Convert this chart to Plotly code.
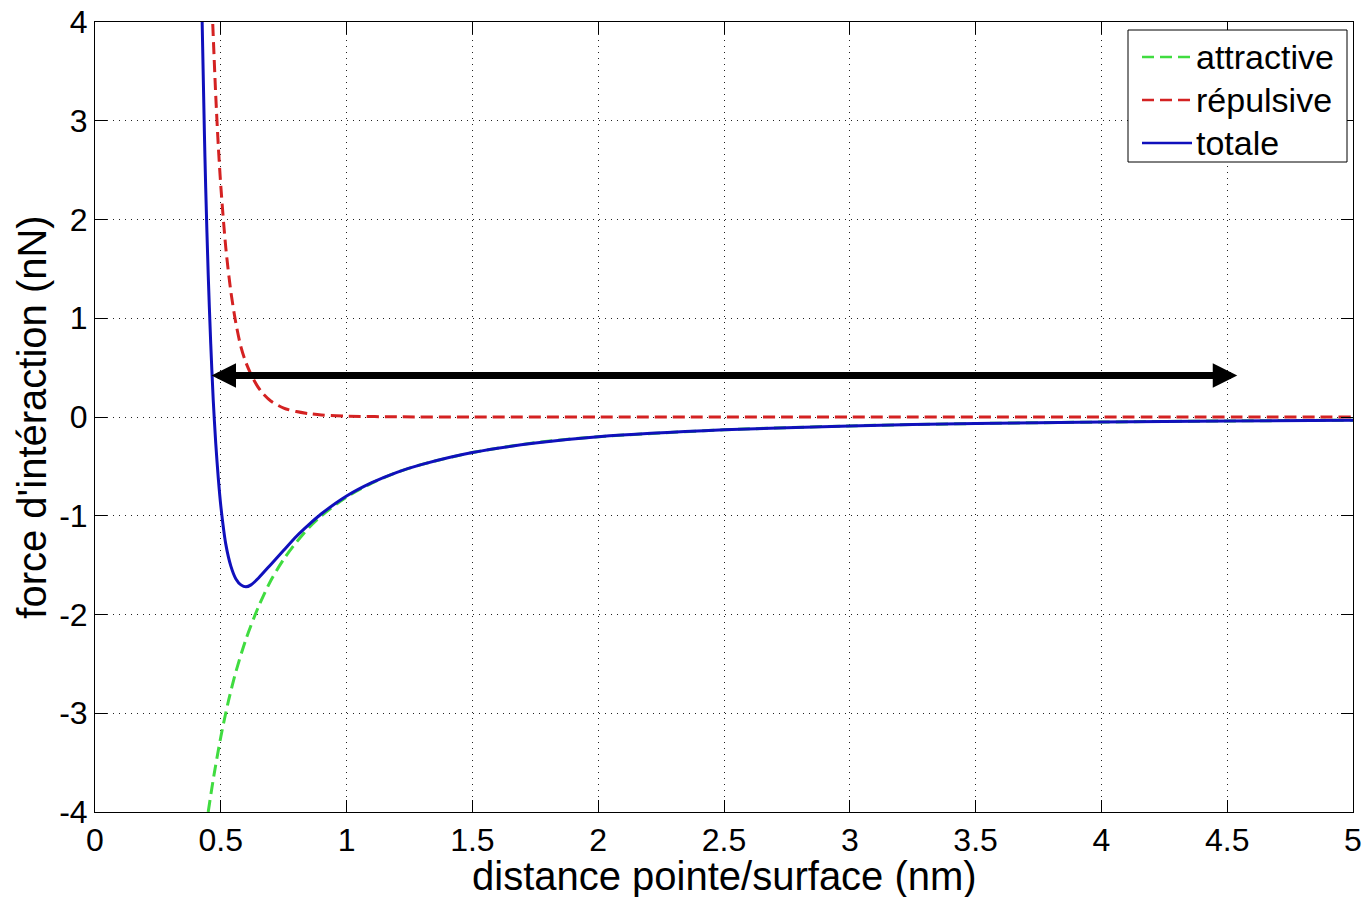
import plotly.graph_objects as go

# ---- data ----
x_att = [0.45, 0.47, 0.50, 0.53, 0.56, 0.60, 0.65, 0.70, 0.75, 0.80, 0.85, 0.90,
         1.00, 1.10, 1.20, 1.30, 1.50, 1.75, 2.00, 2.50, 3.00, 3.50, 4.00, 4.50, 5.00]
y_att = [-4.00, -3.67, -3.24, -2.88, -2.58, -2.25, -1.92, -1.65, -1.44, -1.27, -1.12, -1.00,
         -0.81, -0.67, -0.56, -0.48, -0.36, -0.26, -0.20, -0.13, -0.09, -0.066, -0.051, -0.040, -0.032]

x_rep = [0.468, 0.48, 0.49, 0.50, 0.52, 0.54, 0.56, 0.58, 0.60, 0.63, 0.66, 0.70,
         0.75, 0.80, 0.85, 0.90, 1.00, 1.20, 1.50, 2.00, 3.00, 4.00, 5.00]
y_rep = [3.98, 3.25, 2.75, 2.34, 1.71, 1.27, 0.95, 0.71, 0.55, 0.38, 0.26, 0.16,
         0.09, 0.055, 0.034, 0.021, 0.009, 0.002, 0.0, 0.0, 0.0, 0.0, 0.0]

x_tot = [0.425, 0.435, 0.44, 0.45, 0.46, 0.47, 0.48, 0.49, 0.50, 0.52, 0.54, 0.56,
         0.58, 0.60, 0.62, 0.65, 0.70, 0.75, 0.80, 0.85, 0.90, 1.00, 1.10, 1.20,
         1.30, 1.50, 1.75, 2.00, 2.50, 3.00, 3.50, 4.00, 4.50, 5.00]
y_tot = [4.11, 2.85, 2.32, 1.44, 0.74, 0.17, -0.27, -0.62, -0.90, -1.29, -1.51, -1.64,
         -1.70, -1.72, -1.70, -1.63, -1.49, -1.35, -1.21, -1.09, -0.98, -0.80, -0.665, -0.56,
         -0.48, -0.36, -0.264, -0.20, -0.13, -0.09, -0.066, -0.051, -0.040, -0.032]

series_names = ["attractive", "répulsive", "totale"]
series_colors = ["#40dc40", "#d42222", "#1010bc"]
series_dash = ["12px,6px", "12px,6px", "solid"]

x_tickvals = [0, 0.5, 1, 1.5, 2, 2.5, 3, 3.5, 4, 4.5, 5]
x_ticktext = ["0", "0.5", "1", "1.5", "2", "2.5", "3", "3.5", "4", "4.5", "5"]
y_tickvals = [-4, -3, -2, -1, 0, 1, 2, 3, 4]
y_ticktext = ["-4", "-3", "-2", "-1", "0", "1", "2", "3", "4"]

arrow_x = [0.457, 4.54]
arrow_y = 0.42

x_title = "distance pointe/surface (nm)"
y_title = "force d'intéraction (nN)"

FONT = "Liberation Sans, Arial, sans-serif"

fig = go.Figure()
for xs, ys, nm, col, ds in zip([x_att, x_rep, x_tot], [y_att, y_rep, y_tot],
                               series_names, series_colors, series_dash):
    fig.add_trace(go.Scatter(x=xs, y=ys, mode="lines", name=nm, showlegend=False,
                             line=dict(color=col, width=3, dash=ds,
                                       shape="spline", smoothing=0.8)))

fig.add_annotation(x=arrow_x[1], y=arrow_y, ax=arrow_x[0], ay=arrow_y,
                   xref="x", yref="y", axref="x", ayref="y",
                   text="", showarrow=True, arrowside="end+start",
                   arrowhead=2, arrowsize=0.7, arrowwidth=7, arrowcolor="black")

# ---- legend box (MATLAB style) drawn in pixel offsets from the plot's top-left corner ----
W_PLOT, H_PLOT = 1258, 790


def px_x(p):  # pixel offset from plot left -> paper fraction
    return p / W_PLOT


def px_y(p):  # pixel offset from plot top -> paper fraction
    return 1 - p / H_PLOT


box_l, box_r, box_t, box_b = 1033, 1252, 8, 140
fig.add_shape(type="rect", xref="paper", yref="paper",
              x0=px_x(box_l), x1=px_x(box_r), y0=px_y(box_b), y1=px_y(box_t),
              line=dict(color="black", width=1), fillcolor="white", layer="above")
row_y = [35, 78, 121]
for i, nm in enumerate(series_names):
    fig.add_shape(type="line", xref="paper", yref="paper",
                  x0=px_x(1047), x1=px_x(1097), y0=px_y(row_y[i]), y1=px_y(row_y[i]),
                  line=dict(color=series_colors[i], width=2.5, dash=series_dash[i]),
                  layer="above")
    fig.add_annotation(x=px_x(1099), y=px_y(row_y[i]), xref="paper", yref="paper",
                       text=nm, showarrow=False, xanchor="left", yanchor="middle",
                       font=dict(family=FONT, size=34, color="black"))

# x-axis title placed just under the tick labels, as in the reference
fig.add_annotation(x=0.5, y=0, xref="paper", yref="paper", yanchor="top", yshift=-40,
                   text=x_title, showarrow=False,
                   font=dict(family=FONT, size=40, color="black"))

axis_common = dict(
    showline=True, linecolor="black", linewidth=1, mirror="ticks",
    ticks="inside", ticklen=12, tickwidth=1, tickcolor="black",
    showgrid=True, gridcolor="#222222", gridwidth=1, griddash="1px,5px",
    zeroline=False,
    tickfont=dict(family=FONT, size=32, color="black"),
)

fig.update_xaxes(range=[0, 5], tickvals=x_tickvals, ticktext=x_ticktext, **axis_common)
fig.update_yaxes(range=[-4, 4], tickvals=y_tickvals, ticktext=y_ticktext,
                 title=dict(text=y_title, font=dict(family=FONT, size=40, color="black"),
                            standoff=0),
                 **axis_common)

fig.update_layout(
    width=1367, height=897,
    margin=dict(l=95, r=14, t=22, b=85, autoexpand=False),
    paper_bgcolor="white", plot_bgcolor="white",
    showlegend=False,
)

fig.write_html("out.html")
